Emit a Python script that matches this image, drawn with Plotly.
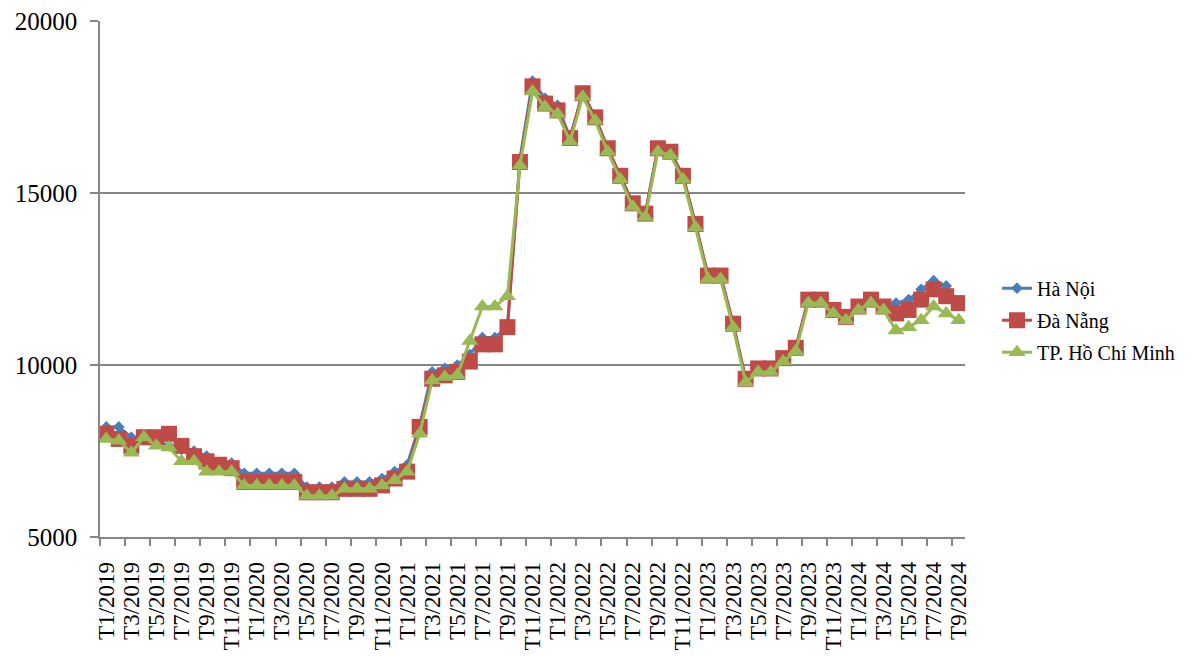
import plotly.graph_objects as go

years = [2019, 2020, 2021, 2022, 2023, 2024]
months = [f"T{m}/{y}" for y in years for m in range(1, 13)][:69]

ha_noi = [8200, 8200, 7900, 7900, 7800, 7650, 7550, 7500, 7350, 7150, 7150, 6850,
          6850, 6850, 6850, 6850, 6450, 6450, 6450, 6600, 6600, 6600, 6700, 6900,
          7100, 8250, 9800, 9900, 10000, 10300, 10800, 10800, 11100, 16000, 18250, 17750,
          17550, 16600, 17900, 17200, 16300, 15500, 14700, 14400, 16300, 16200, 15500, 14100,
          12600, 12600, 11200, 9600, 9900, 9900, 10200, 10500, 11900, 11900, 11600, 11400,
          11700, 11900, 11700, 11800, 11900, 12200, 12450, 12300, 11800]
da_nang = [8000, 7850, 7650, 7900, 7900, 8000, 7650, 7350, 7200, 7100, 7000, 6600,
           6600, 6600, 6600, 6600, 6300, 6300, 6300, 6400, 6400, 6400, 6500, 6700,
           6900, 8200, 9600, 9700, 9800, 10100, 10600, 10600, 11100, 15900, 18100, 17600,
           17400, 16600, 17900, 17200, 16300, 15500, 14700, 14400, 16300, 16200, 15500, 14100,
           12600, 12600, 11200, 9600, 9900, 9900, 10200, 10500, 11900, 11900, 11600, 11400,
           11700, 11900, 11700, 11500, 11600, 11900, 12200, 12000, 11800]
tp_hcm = [7850, 7800, 7450, 7900, 7650, 7600, 7200, 7200, 6900, 6900, 6900, 6500,
          6500, 6500, 6500, 6500, 6200, 6200, 6200, 6400, 6400, 6400, 6500, 6650,
          6900, 8000, 9550, 9650, 9700, 10700, 11700, 11700, 12000, 15800, 17950, 17500,
          17300, 16500, 17800, 17100, 16200, 15400, 14600, 14300, 16200, 16100, 15400, 14000,
          12500, 12500, 11100, 9500, 9800, 9800, 10100, 10400, 11800, 11800, 11500, 11300,
          11600, 11800, 11600, 11000, 11100, 11300, 11700, 11500, 11300]

series = [
    ("Hà Nội", ha_noi, "#4A7EBB", "diamond", 9),
    ("Đà Nẵng", da_nang, "#BE4B48", "square", 16),
    ("TP. Hồ Chí Minh", tp_hcm, "#98B954", "triangle-up", 15),
]

x_idx = list(range(len(months)))
fig = go.Figure()
for i, (name, vals, col, sym, sz) in enumerate(series):
    fig.add_trace(go.Scatter(
        x=x_idx, y=vals, name=name, mode="lines+markers",
        line=dict(color=col, width=3),
        marker=dict(symbol=sym, size=sz, color=col, line=dict(width=0)),
        legendgroup=f"g{i}",
    ))

font = "Liberation Serif"
fig.update_layout(
    width=1192, height=657,
    margin=dict(l=100, r=227, t=21, b=120, autoexpand=False),
    paper_bgcolor="white", plot_bgcolor="white",
    font=dict(family=font, size=24, color="black"),
    showlegend=True,
    legend=dict(x=1.037, y=0.52, xanchor="left", yanchor="top",
                font=dict(family=font, size=20, color="black"),
                tracegroupgap=3, traceorder="grouped",
                bgcolor="rgba(0,0,0,0)"),
    xaxis=dict(
        range=[-0.5, len(months) - 0.5],
        tickmode="array",
        tickvals=x_idx[::2],
        ticktext=months[::2],
        tickangle=-90,
        ticks="",
        ticklabelstandoff=14,
        automargin=False,
        showgrid=False,
        showline=True, linecolor="#868686", linewidth=1.5,
        zeroline=False,
        tickfont=dict(family=font, size=23, color="black"),
        minor=dict(tickmode="array", tickvals=[v - 0.5 for v in x_idx[::2]],
                   ticks="outside", ticklen=7, tickcolor="#868686", tickwidth=1.5,
                   showgrid=False),
    ),
    yaxis=dict(
        range=[5000, 20000],
        tickmode="linear", tick0=5000, dtick=5000,
        tickformat="d",
        automargin=False,
        showgrid=True, gridcolor="#868686", gridwidth=1.5,
        showline=True, linecolor="#868686", linewidth=1.5,
        ticks="outside", ticklen=8, tickcolor="#868686", tickwidth=1.5,
        ticklabelstandoff=8,
        zeroline=False,
        tickfont=dict(family=font, size=25, color="black"),
    ),
)

fig.write_html("out.html")
